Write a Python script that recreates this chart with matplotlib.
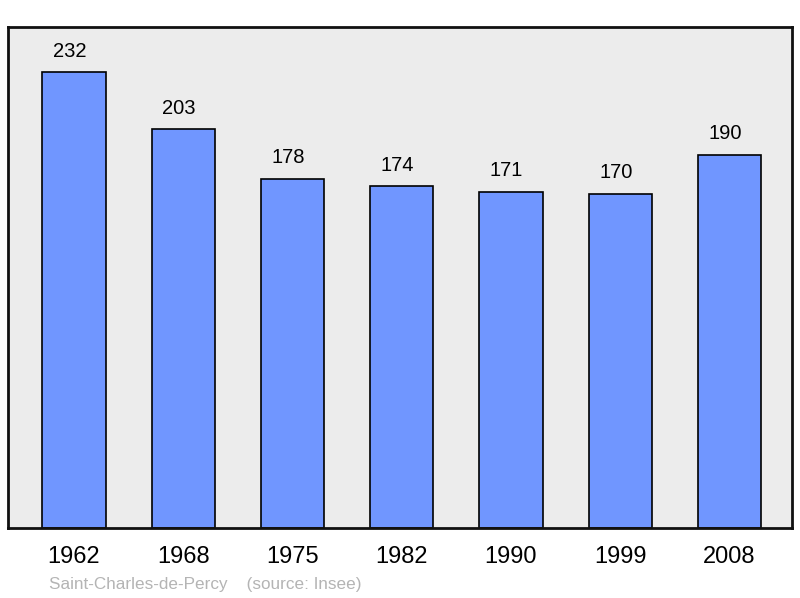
#!/usr/bin/env python3

import matplotlib
matplotlib.use('Agg')
import matplotlib.pyplot as plt

years = ['1962', '1968', '1975', '1982', '1990', '1999', '2008']
population = [232, 203, 178, 174, 171, 170, 190]
commune = 'Saint-Charles-de-Percy'
source = '(source: Insee)'

plt.rcParams['font.family'] = ['Liberation Sans', 'DejaVu Sans']

fig = plt.figure(figsize=(8, 5.98), dpi=100, facecolor='w')
ax = fig.add_axes([0.0106, 0.117, 0.979, 0.838])
ax.set_facecolor('#ececec')

x = range(len(years))
ax.bar(x, population, width=0.58, color='#7096ff', edgecolor='black', linewidth=1.2, zorder=2)

for i, v in zip(x, population) :
	ax.text(i - 0.04, v + 6, str(v), ha='center', va='bottom', fontsize=14.5)

ax.set_xlim(-0.6, 6.57)
ax.set_ylim(0, max(population) * 1.1)
ax.set_xticks(list(x))
ax.set_xticklabels(years, fontsize=17)
ax.tick_params(axis='x', length=0, pad=13)
ax.set_yticks([])
for s in ax.spines.values() :
	s.set_linewidth(2)
	s.set_color('#111111')

fig.text(49/800, 1 - 584/598, commune + '    ' + source, fontsize=12.3, color='#b4b4b4', va='center', ha='left')

fig.savefig('out.png', dpi=100)
